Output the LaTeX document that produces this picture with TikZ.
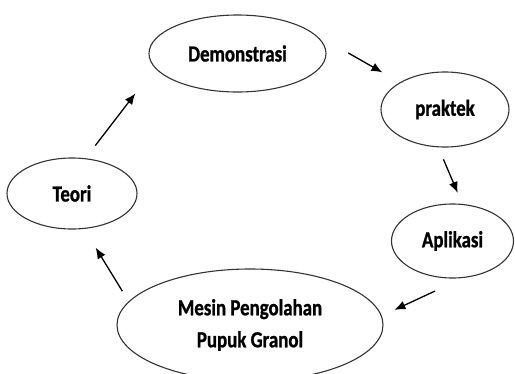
\documentclass[tikz,border=0pt]{standalone}
\usepackage{fontspec}
\setmainfont{Carlito}[FakeStretch=0.82,BoldFeatures={FakeBold=1}]
\usetikzlibrary{shapes.geometric,arrows.meta}
\begin{document}
\begin{tikzpicture}[x=1pt,y=-1pt,
  stage/.style={ellipse,draw=black!80,line width=1.1pt,inner sep=0pt,
    align=center,font=\bfseries\fontsize{23}{32}\selectfont},
  flowarrow/.style={-{Latex[length=11pt,width=9pt]},line width=1.3pt}]
\useasboundingbox (0,0) rectangle (515,373);
\node[stage,minimum width=177,minimum height=77] (demo) at (237.5,53.5) {Demonstrasi};
\node[stage,minimum width=128,minimum height=75] (prak) at (445,109.5) {praktek};
\node[stage,minimum width=122,minimum height=74] (apl) at (452.5,241) {Aplikasi};
\node[stage,minimum width=266,minimum height=112] (mesin) at (250,325) {Mesin Pengolahan\\Pupuk Granol};
\node[stage,minimum width=130,minimum height=71] (teori) at (72,193.5) {Teori};
% siklus
\draw[flowarrow,shorten <=40pt,shorten >=20pt] (demo.15) -- (prak.149);
\draw[flowarrow,shorten <=13pt,shorten >=12pt] (prak.-100) -- (apl.75);
\draw[flowarrow,shorten <=31pt,shorten >=14pt] (apl.-74) -- (mesin.4);
\draw[flowarrow,shorten <=12pt,shorten >=22pt] (mesin.169) -- (teori.-71);
\draw[flowarrow,shorten <=16pt,shorten >=32pt] (teori.69) -- (demo.190);
\end{tikzpicture}
\end{document}
